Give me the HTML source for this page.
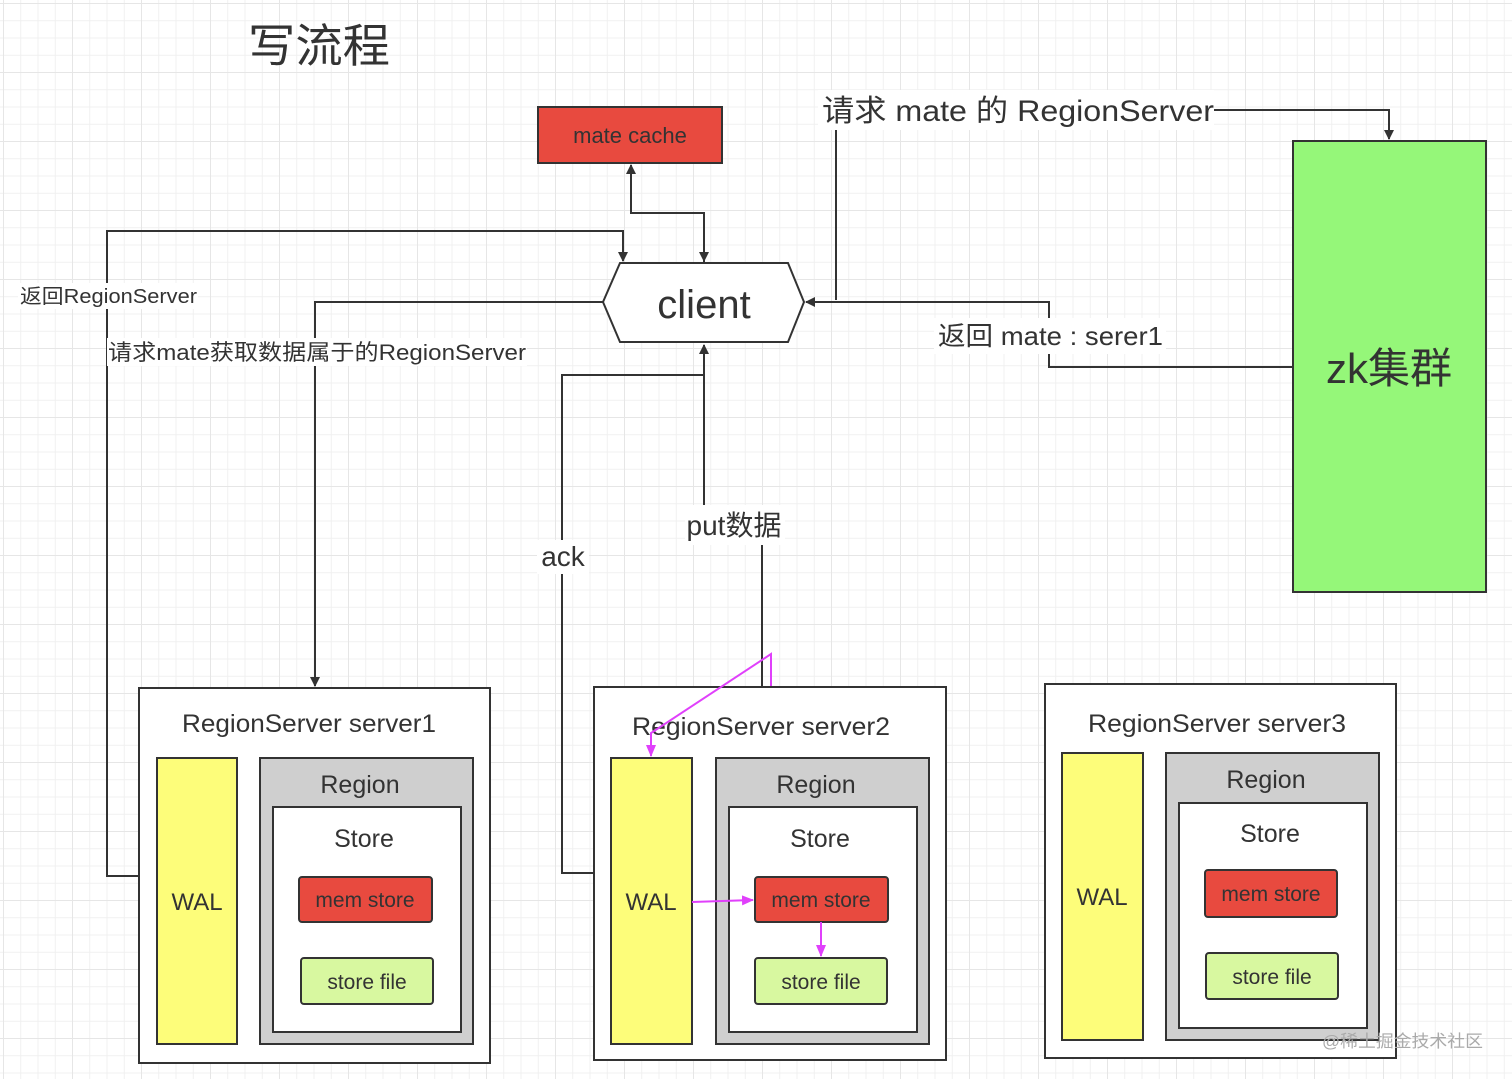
<!DOCTYPE html>
<html><head><meta charset="utf-8"><style>
html,body{margin:0;padding:0;}
body{width:1512px;height:1079px;overflow:hidden;background-color:#fff;
background-image:linear-gradient(#e6e6e6 1px,transparent 1px),linear-gradient(90deg,#e6e6e6 1px,transparent 1px),linear-gradient(#f0f0f0 1px,transparent 1px),linear-gradient(90deg,#f0f0f0 1px,transparent 1px);
background-size:69px 69px,69px 69px,17.25px 17.25px,17.25px 17.25px;background-position:3px 3px;}
svg{position:absolute;left:0;top:0;}
text{font-family:"Liberation Sans","Noto Sans CJK SC",sans-serif;fill:#333;}
</style></head><body>
<svg width="1512" height="1079" viewBox="0 0 1512 1079">
<defs>
<marker id="a" markerWidth="10" markerHeight="10" refX="9" refY="5" orient="auto" markerUnits="userSpaceOnUse"><path d="M0,0 L10,5 L0,10 Z" fill="#333"/></marker>
<marker id="m" markerWidth="12" markerHeight="10" refX="11" refY="5" orient="auto" markerUnits="userSpaceOnUse"><path d="M0,0 L12,5 L0,10 Z" fill="#e040fb"/></marker>
</defs>
<text x="248" y="62" font-size="46" textLength="142" lengthAdjust="spacingAndGlyphs">写流程</text>
<rect x="538" y="107" width="184" height="56" fill="#e84a3f" stroke="#333" stroke-width="2"/>
<text x="630" y="143" font-size="22" text-anchor="middle">mate cache</text>
<rect x="1293" y="141" width="193" height="451" fill="#95f779" stroke="#333" stroke-width="2"/>
<text x="1389" y="383" font-size="42" text-anchor="middle">zk集群</text>
<polygon points="603,302 620,263 788,263 804,302 788,342 620,342" fill="#fff" stroke="#333" stroke-width="2"/>
<text x="704" y="318" font-size="40" text-anchor="middle">client</text>
<g fill="none" stroke="#333" stroke-width="2">
<polyline points="704,263 704,213 631,213 631,165" marker-end="url(#a)"/>
<polyline points="631,213 704,213 704,261" marker-end="url(#a)"/>
<polyline points="139,876 107,876 107,231 623,231 623,261" marker-end="url(#a)"/>
<polyline points="603,302 315,302 315,686" marker-end="url(#a)"/>
<polyline points="836,130 836,300"/>
<polyline points="1214,110 1389,110 1389,139" marker-end="url(#a)"/>
<polyline points="1293,367 1049,367 1049,302 806,302" marker-end="url(#a)"/>
<polyline points="594,873 562,873 562,375 704,375 704,345" marker-end="url(#a)"/>
<polyline points="704,375 704,505"/>
<polyline points="762,545 762,700" marker-end="url(#a)"/>
</g>
<rect x="18" y="283" width="180" height="26" fill="#fff"/><text x="20" y="303" font-size="20" textLength="177" lengthAdjust="spacingAndGlyphs">返回RegionServer</text>
<rect x="107" y="338" width="420" height="28" fill="#fff"/><text x="108" y="360" font-size="22" textLength="418" lengthAdjust="spacingAndGlyphs">请求mate获取数据属于的RegionServer</text>
<rect x="818" y="90" width="396" height="40" fill="#fff"/><text x="822" y="121" font-size="30" textLength="392" lengthAdjust="spacingAndGlyphs">请求 mate 的 RegionServer</text>
<rect x="934" y="318" width="232" height="36" fill="#fff"/><text x="938" y="345" font-size="26" textLength="225" lengthAdjust="spacingAndGlyphs">返回 mate : serer1</text>
<rect x="537" y="540" width="52" height="34" fill="#fff"/><text x="563" y="566" font-size="28" text-anchor="middle">ack</text>
<rect x="685" y="505" width="100" height="40" fill="#fff"/><text x="734" y="535" font-size="28" text-anchor="middle">put数据</text>

<!-- server1 -->
<rect x="139" y="688" width="351" height="375" fill="#fff" stroke="#333" stroke-width="2"/>
<text x="182" y="732" font-size="25" textLength="254" lengthAdjust="spacingAndGlyphs">RegionServer server1</text>
<rect x="157" y="758" width="80" height="286" fill="#fdfd7a" stroke="#333" stroke-width="2"/>
<text x="197" y="910" font-size="24" text-anchor="middle">WAL</text>
<rect x="260" y="758" width="213" height="286" fill="#cfcfcf" stroke="#333" stroke-width="2"/>
<text x="360" y="793" font-size="25" text-anchor="middle">Region</text>
<rect x="273" y="807" width="188" height="225" fill="#fff" stroke="#333" stroke-width="2"/>
<text x="364" y="847" font-size="25" text-anchor="middle">Store</text>
<rect x="299" y="877" width="133" height="45" rx="3" fill="#e84a3f" stroke="#333" stroke-width="2"/>
<text x="365" y="907" font-size="21" text-anchor="middle">mem store</text>
<rect x="301" y="958" width="132" height="46" rx="3" fill="#d8f8a0" stroke="#333" stroke-width="2"/>
<text x="367" y="989" font-size="21" text-anchor="middle">store file</text>

<!-- server2 -->
<rect x="594" y="687" width="352" height="373" fill="#fff" stroke="#333" stroke-width="2"/>
<text x="632" y="735" font-size="25" textLength="258" lengthAdjust="spacingAndGlyphs">RegionServer server2</text>
<rect x="611" y="758" width="81" height="286" fill="#fdfd7a" stroke="#333" stroke-width="2"/>
<text x="651" y="910" font-size="24" text-anchor="middle">WAL</text>
<rect x="716" y="758" width="213" height="286" fill="#cfcfcf" stroke="#333" stroke-width="2"/>
<text x="816" y="793" font-size="25" text-anchor="middle">Region</text>
<rect x="729" y="807" width="188" height="225" fill="#fff" stroke="#333" stroke-width="2"/>
<text x="820" y="847" font-size="25" text-anchor="middle">Store</text>
<rect x="755" y="877" width="133" height="45" rx="3" fill="#e84a3f" stroke="#333" stroke-width="2"/>
<text x="821" y="907" font-size="21" text-anchor="middle">mem store</text>
<rect x="755" y="958" width="132" height="46" rx="3" fill="#d8f8a0" stroke="#333" stroke-width="2"/>
<text x="821" y="989" font-size="21" text-anchor="middle">store file</text>
<g fill="none" stroke="#e040fb" stroke-width="2">
<polyline points="771,686 771,654 651,733 651,756" marker-end="url(#m)"/>
<polyline points="692,902 753,900" marker-end="url(#m)"/>
<polyline points="821,922 821,956" marker-end="url(#m)"/>
</g>

<!-- server3 -->
<rect x="1045" y="684" width="351" height="374" fill="#fff" stroke="#333" stroke-width="2"/>
<text x="1088" y="732" font-size="25" textLength="258" lengthAdjust="spacingAndGlyphs">RegionServer server3</text>
<rect x="1062" y="753" width="81" height="287" fill="#fdfd7a" stroke="#333" stroke-width="2"/>
<text x="1102" y="905" font-size="24" text-anchor="middle">WAL</text>
<rect x="1166" y="753" width="213" height="287" fill="#cfcfcf" stroke="#333" stroke-width="2"/>
<text x="1266" y="788" font-size="25" text-anchor="middle">Region</text>
<rect x="1179" y="803" width="188" height="225" fill="#fff" stroke="#333" stroke-width="2"/>
<text x="1270" y="842" font-size="25" text-anchor="middle">Store</text>
<rect x="1205" y="870" width="132" height="47" rx="3" fill="#e84a3f" stroke="#333" stroke-width="2"/>
<text x="1271" y="901" font-size="21" text-anchor="middle">mem store</text>
<rect x="1206" y="953" width="132" height="46" rx="3" fill="#d8f8a0" stroke="#333" stroke-width="2"/>
<text x="1272" y="984" font-size="21" text-anchor="middle">store file</text>

<text x="1322" y="1047" font-size="17" textLength="161" lengthAdjust="spacingAndGlyphs" style="fill:#aaa">@稀土掘金技术社区</text>
</svg>
</body></html>
